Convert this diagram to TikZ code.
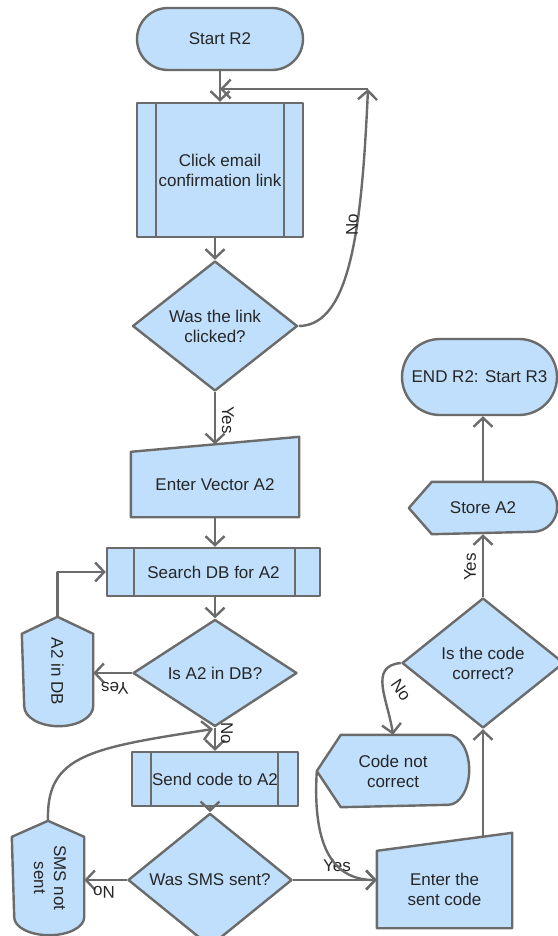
\documentclass[tikz,border=0pt]{standalone}
\usepackage{fontspec}
\setmainfont{Liberation Sans}
\usetikzlibrary{arrows.meta,shapes.geometric,shapes.misc,backgrounds}

\definecolor{boxfill}{HTML}{BFDFFC}
\definecolor{edgegray}{HTML}{6B6B6B}

\begin{document}
\begin{tikzpicture}[
      x=1pt, y=-1pt,
      line join=round, line width=2.4pt, color=edgegray, text=black!85,
      font=\fontsize{17}{20}\selectfont,
      term/.style={rounded rectangle, draw, fill=boxfill, inner sep=0pt},
      proc/.style={rectangle, draw, fill=boxfill, inner sep=0pt},
      dec/.style={diamond, draw, fill=boxfill, inner sep=0pt},
      free/.style={rectangle, inner sep=0pt},
      outline/.style={draw=edgegray, fill=boxfill, line width=2.4pt, line join=round},
      arr/.style={-{Straight Barb[length=9pt,width=19pt]}},
      lbl/.style={inner sep=0pt}
    ]

    \useasboundingbox (0,0) rectangle (557,936);

    % ------------------ Left column ------------------
    \node[term, minimum width=166pt, minimum height=62pt] (start) at (220,39) {Start R2};

    \node[proc, minimum width=166pt, minimum height=134pt, align=center] (click)
    at (220,170) {Click email\\confirmation link};
    \draw ([xshift=20pt]click.north west) -- ([xshift=20pt]click.south west);
    \draw ([xshift=-20pt]click.north east) -- ([xshift=-20pt]click.south east);

    \node[dec, minimum width=165pt, minimum height=130pt, align=center] (lnk)
    at (215,326) {Was the link\\clicked?};

    \node[free, minimum width=166pt, minimum height=63pt] (vec) at (215,484.5)
    {Enter Vector A2};

    \node[proc, minimum width=213pt, minimum height=48pt] (search) at (213.5,572)
    {Search DB for A2};
    \draw ([xshift=28pt]search.north west) -- ([xshift=28pt]search.south west);
    \draw ([xshift=-26pt]search.north east) -- ([xshift=-26pt]search.south east);

    \node[dec, minimum width=164pt, minimum height=78pt] (dbq) at (215,673)
    {Is A2 in DB?};

    \node[free, minimum width=69pt, minimum height=107pt] (a2db) at (57.5,671.5)
    {\rotatebox{-90}{A2 in DB}};

    \node[proc, minimum width=166pt, minimum height=54pt] (send) at (215,779)
    {Send code to A2};
    \draw ([xshift=20pt]send.north west) -- ([xshift=20pt]send.south west);
    \draw ([xshift=-21pt]send.north east) -- ([xshift=-21pt]send.south east);

    \node[dec, minimum width=164pt, minimum height=96pt] (smsq) at (210,880)
    {Was SMS sent?};

    \node[free, minimum width=70pt, minimum height=112pt] (smsns) at (48,878)
    {\rotatebox{-90}{\begin{tabular}{@{}c@{}}SMS not\\sent\end{tabular}}};

    % ------------------ Right column ------------------
    \node[term, minimum width=155pt, minimum height=76pt] (endn) at (479.5,377)
    {END R2: Start R3};

    \node[free, minimum width=146pt, minimum height=50pt] (store) at (483,508)
    {Store A2};

    \node[dec, minimum width=162pt, minimum height=130pt, align=center] (chk)
    at (483,663) {Is the code\\correct?};

    \node[free, minimum width=150pt, minimum height=70pt, align=center] (cnc)
    at (393,771) {Code not\\correct};

    \node[free, minimum width=133pt, minimum height=75pt, align=center] (entr)
    at (444.5,889.5) {Enter the\\sent code};

    % ------------------ Outlines of the free shapes ------------------
    \begin{scope}[on background layer]
      % manual input
      \path[outline] (vec.south west) -- (vec.south east)
      -- ([yshift=15pt]vec.north east) -- (vec.north west) -- cycle;
      \path[outline] (entr.south west) -- (entr.south east)
      -- ([yshift=18pt]entr.north east) -- (entr.north west) -- cycle;
      % display, pointing left
      \path[outline] ([xshift=-24pt]store.north east)
      arc[start angle=90, end angle=-90, x radius=24pt, y radius=25pt]
      -- ([xshift=23pt]store.south west) -- (store.west)
      -- ([xshift=23pt]store.north west) -- cycle;
      \path[outline] ([xshift=-21pt]cnc.north east)
      arc[start angle=90, end angle=-90, x radius=21pt, y radius=35pt]
      -- ([xshift=24pt]cnc.south west) -- (cnc.west)
      -- ([xshift=24pt]cnc.north west) -- cycle;
      % display, pointing up
      \path[outline] (a2db.north) -- ([yshift=-17pt]a2db.north east)
      -- ([yshift=20pt]a2db.south east)
      arc[start angle=0, end angle=-180, x radius=34.5pt, y radius=20pt]
      -- ([yshift=-17pt]a2db.north west) -- cycle;
      \path[outline] (smsns.north) -- ([yshift=-16pt]smsns.north east)
      -- ([yshift=18pt]smsns.south east)
      arc[start angle=0, end angle=-180, x radius=35pt, y radius=18pt]
      -- ([yshift=-16pt]smsns.north west) -- cycle;
    \end{scope}

    % ------------------ Connectors ------------------
    \draw[arr] (start.south) -- (click.north);
    \draw[arr] (click.south -| lnk.north) -- (lnk.north);

    \coordinate (loop) at (368,89);
    \draw[arr] (lnk.east) .. controls (352,326) and (362,220) .. (loop);
    \draw[arr] (loop) -- (loop -| click.north);
    \node[lbl, rotate=90] (nolnk) at (352,225) {No};

    \coordinate[yshift=7.5pt] (vectop) at (vec.north);
    \draw[arr] (lnk.south) -- (vectop);
    \node[lbl, rotate=-90] (yeslnk) at (228,420) {Yes};

    \draw[arr] (vec.south) -- (vec.south |- search.north);
    \draw[arr] (dbq.north |- search.south) -- (dbq.north);

    \draw[arr] (dbq.west) -- (dbq.west -| a2db.east);
    \node[lbl, rotate=180] (yesdb) at (115,688) {Yes};
    \draw[arr] (a2db.north) |- (search.west);

    \draw[arr] (dbq.south) -- (dbq.south |- send.north);
    \node[lbl, rotate=-90] (nodb) at (227,733) {No};

    \coordinate (smsjoin) at (213,729);
    \draw[arr] (smsns.north) .. controls (46,755) and (90,748) .. (smsjoin);

    \draw[arr] (send.south -| smsq.north) -- (smsq.north);
    \draw[arr] (smsq.west) -- (smsq.west -| smsns.east);
    \node[lbl, rotate=180] (nosms) at (104,892) {No};

    \draw[arr] (smsq.east) -- (smsq.east -| entr.west);
    \node[lbl] (yessms) at (337,866) {Yes};
    \draw[arr] (cnc.west) .. controls (312,850) and (335,880) .. (smsq.east -| entr.west);

    \coordinate[yshift=14.2pt] (entrtop) at (entr.north -| chk.south);
    \draw[arr] (entrtop) -- (chk.south);

    \draw[arr] (chk.west) .. controls (368,666) and (388,700) .. (cnc.north);
    \node[lbl, rotate=-55] (nochk) at (401,690) {No};

    \draw[arr] (chk.north) -- (store.south);
    \node[lbl, rotate=90] (yeschk) at (470,567) {Yes};

    \draw[arr] (store.north) -- (store.north |- endn.south);

  \end{tikzpicture}
\end{document}
